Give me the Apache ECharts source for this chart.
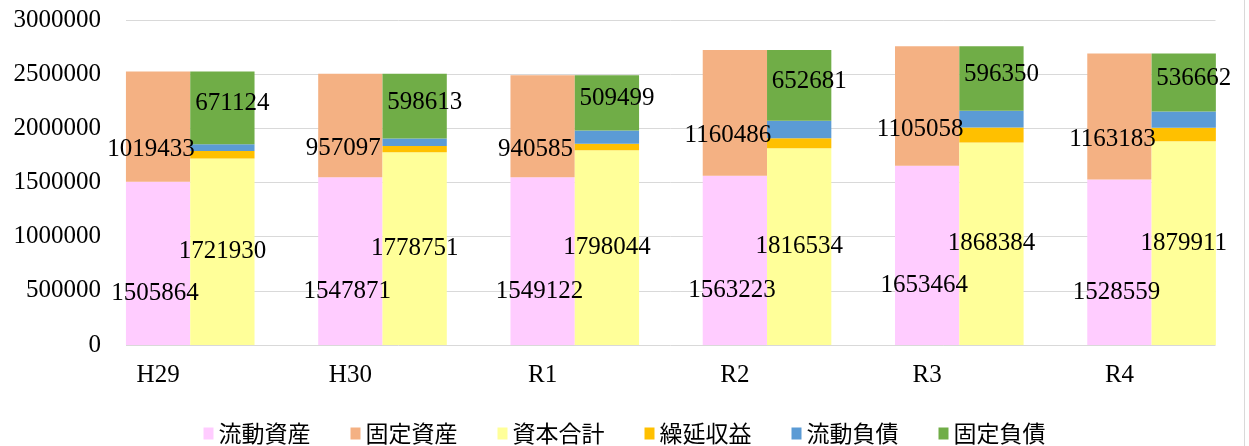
<!DOCTYPE html>
<html>
<head>
<meta charset="utf-8">
<script src="https://cdn.jsdelivr.net/npm/echarts@6/dist/echarts.min.js"></script>
<style>
  html, body { margin: 0; padding: 0; background: #fff; }
  #chart { width: 1249px; height: 446px; }
</style>
</head>
<body>
<div id="chart"></div>
<script>
// Balance sheet composition by fiscal year
const categories = ['H29', 'H30', 'R1', 'R2', 'R3', 'R4'];

// Assets
const currentAssets = [1505864, 1547871, 1549122, 1563223, 1653464, 1528559]; // 流動資産
const fixedAssets   = [1019433, 957097, 940585, 1160486, 1105058, 1163183];   // 固定資産

// Liabilities and equity
const totalCapital       = [1721930, 1778751, 1798044, 1816534, 1868384, 1879911]; // 資本合計
const deferredRevenue    = [68000, 59000, 59000, 91300, 139000, 125700];          // 繰延収益
const currentLiabilities = [64243, 68604, 123164, 163194, 154788, 149469];        // 流動負債
const fixedLiabilities   = [671124, 598613, 509499, 652681, 596350, 536662];      // 固定負債

const yTicks = { min: 0, max: 3000000, interval: 500000 };

const serif = '"Liberation Serif", "DejaVu Serif", serif';
const jp = '"Noto Sans CJK JP", sans-serif';

const chart = echarts.init(document.getElementById('chart'));

const BAR_W = 64.3;
const labelBase = {
  show: true, position: 'inside', fontFamily: serif, fontSize: 25, color: '#000',
  formatter: p => String(p.value)
};

function bar(name, data, stack, color, label) {
  return {
    name, type: 'bar', stack, data,
    xAxisIndex: 1, yAxisIndex: 1,
    barWidth: BAR_W, barGap: '0%',
    itemStyle: { color },
    label: label ? Object.assign({}, labelBase, label) : { show: false },
    emphasis: { disabled: true }
  };
}

chart.setOption({
  animation: false,
  grid: [
    { left: 126, right: 33.5, top: 20, height: 325 },
    { left: 94.1, width: 1153.6, top: 20, height: 325 }
  ],
  xAxis: [
    { type: 'value', gridIndex: 0, show: false },
    {
      type: 'category', gridIndex: 1, data: categories,
      axisLine: { show: false }, axisTick: { show: false },
      axisLabel: {
        fontFamily: serif, fontSize: 25, color: '#000', margin: 18,
        padding: [0, 64.2, 0, 0]
      }
    }
  ],
  yAxis: [
    {
      type: 'value', gridIndex: 0,
      min: yTicks.min, max: yTicks.max, interval: yTicks.interval,
      axisLine: { show: false }, axisTick: { show: false },
      axisLabel: {
        fontFamily: serif, fontSize: 25, color: '#000', margin: 25,
        formatter: v => String(v)
      },
      splitLine: { lineStyle: { color: '#d9d9d9', width: 1 } }
    },
    {
      type: 'value', gridIndex: 1, show: false,
      min: yTicks.min, max: yTicks.max, interval: yTicks.interval,
      splitLine: { show: false }
    }
  ],
  legend: {
    left: 'center', top: 417,
    icon: 'rect', itemWidth: 10, itemHeight: 12, itemGap: 40,
    textStyle: { fontFamily: jp, fontSize: 23, color: '#000' },
    data: ['流動資産', '固定資産', '資本合計', '繰延収益', '流動負債', '固定負債']
  },
  series: [
    bar('流動資産', currentAssets, 'assets', '#FFCCFF', { offset: [-3, 30] }),
    bar('固定資産', fixedAssets, 'assets', '#F4B183', { offset: [-7, 23] }),
    bar('資本合計', totalCapital, 'equity', '#FFFF99', { offset: [0, 0] }),
    bar('繰延収益', deferredRevenue, 'equity', '#FFC000', null),
    bar('流動負債', currentLiabilities, 'equity', '#5B9BD5', null),
    bar('固定負債', fixedLiabilities, 'equity', '#70AD47', { offset: [10, -4] })
  ],
  graphic: [
    {
      type: 'line', silent: true,
      shape: { x1: 1244.5, y1: 0, x2: 1244.5, y2: 446 },
      style: { stroke: '#d9d9d9', lineWidth: 1 }
    }
  ]
});
</script>
</body>
</html>
